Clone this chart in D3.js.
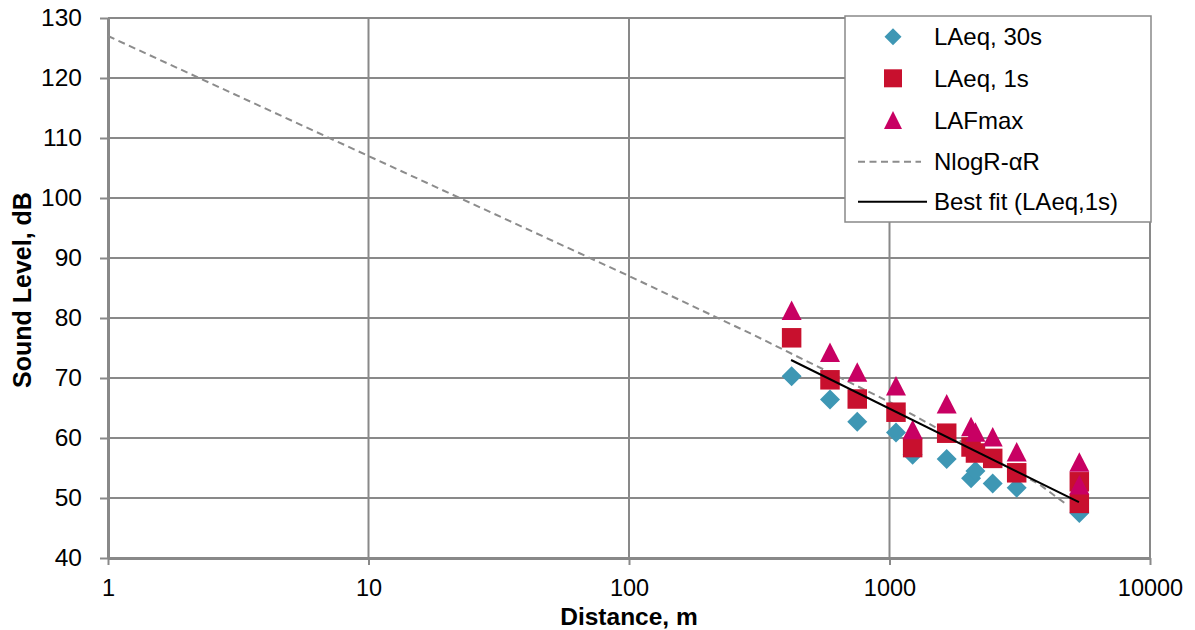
<!DOCTYPE html>
<html>
<head>
<meta charset="utf-8">
<script src="https://cdn.jsdelivr.net/npm/d3@7"></script>
<style>
  html, body { margin: 0; padding: 0; background: #fff; }
  svg { display: block; font-family: "Liberation Sans", Arial, sans-serif; }
</style>
</head>
<body>
<svg id="chart" width="1195" height="630"></svg>
<script>
// ---- data ----
const xTicks = [1, 10, 100, 1000, 10000];
const yTicks = [40, 50, 60, 70, 80, 90, 100, 110, 120, 130];

const laeq30Dist = [421, 591, 752, 1059, 1227, 1658, 2056, 2138, 2490, 3078, 5354];
const laeq30Vals = [70.3, 66.4, 62.7, 60.9, 57.2, 56.5, 53.3, 54.5, 52.4, 51.7, 47.5];

const laeq1Dist = [421, 591, 752, 1059, 1227, 1658, 2056, 2138, 2490, 3078, 5354, 5354];
const laeq1Vals = [76.7, 69.7, 66.5, 64.3, 58.4, 60.8, 58.5, 57.5, 56.6, 54.2, 52.7, 49.1];

const lafmaxDist = [421, 591, 752, 1059, 1227, 1658, 2056, 2138, 2490, 3078, 5354, 5354];
const lafmaxVals = [81.3, 74.3, 71.0, 68.7, 61.4, 65.7, 61.9, 61.0, 60.2, 57.7, 56.0, 52.2];

const modelDist = [1, 10, 100, 300, 1000, 1836, 3784, 4720];
const modelVals = [127, 107, 87, 77.2, 66, 59.7, 52.2, 49.1];

const fitDist = [419, 5336];
const fitVals = [73.0, 49.3];

const legendLabels = ["LAeq, 30s", "LAeq, 1s", "LAFmax", "NlogR-\u03b1R", "Best fit (LAeq,1s)"];

// ---- layout ----
const svg = d3.select("#chart");
const L = 108, R = 1150, T = 18, B = 558;
const x = d3.scaleLog().domain([1, 10000]).range([L, R]);
const y = d3.scaleLinear().domain([40, 130]).range([B, T]);

const gridColor = "#898989";
const colDiamond = "#3e97b4";
const colSquare = "#c8102e";
const colTriangle = "#c80063";

// gridlines
svg.append("g").selectAll("line").data(yTicks).join("line")
  .attr("x1", L).attr("x2", R)
  .attr("y1", d => y(d)).attr("y2", d => y(d))
  .attr("stroke", gridColor).attr("stroke-width", 2);
svg.append("g").selectAll("line").data(xTicks).join("line")
  .attr("x1", d => x(d)).attr("x2", d => x(d))
  .attr("y1", T).attr("y2", B)
  .attr("stroke", gridColor).attr("stroke-width", 2);

// axes
const xAxis = d3.axisBottom(x).tickValues(xTicks).tickFormat(d3.format("d")).tickSizeInner(7).tickSizeOuter(0).tickPadding(14);
const gx = svg.append("g").attr("transform", `translate(0,${B})`).call(xAxis);
const yAxis = d3.axisLeft(y).tickValues(yTicks).tickFormat(d3.format("d")).tickSizeInner(8).tickSizeOuter(0).tickPadding(18);
const gy = svg.append("g").attr("transform", `translate(${L},0)`).call(yAxis);
[gx, gy].forEach(g => {
  g.select(".domain").attr("stroke", gridColor).attr("stroke-width", 3);
  g.selectAll(".tick line").attr("stroke", gridColor).attr("stroke-width", 2);
  g.selectAll(".tick text").attr("fill", "#000")
    .attr("font-family", "Liberation Sans, Arial, sans-serif");
});
gy.selectAll(".tick text").attr("font-size", 24.5);
gx.selectAll(".tick text").attr("font-size", 23.5);

// model (dashed) line
const line = d3.line().x(d => x(d[0])).y(d => y(d[1]));
svg.append("path")
  .datum(modelDist.map((d, i) => [d, modelVals[i]]))
  .attr("d", line).attr("fill", "none")
  .attr("stroke", "#8c8c8c").attr("stroke-width", 2).attr("stroke-dasharray", "7,4.5");

// markers
const diamond = s => `M0,${-s}L${s},0L0,${s}L${-s},0Z`;
const square = s => `M${-s / 2},${-s / 2}h${s}v${s}h${-s}Z`;
const triangle = (w, h) => `M0,${-h / 2}L${w / 2},${h / 2}L${-w / 2},${h / 2}Z`;

svg.append("g").selectAll("path").data(laeq30Dist.map((d, i) => [d, laeq30Vals[i]])).join("path")
  .attr("d", diamond(10)).attr("fill", colDiamond)
  .attr("transform", d => `translate(${x(d[0])},${y(d[1])})`);
svg.append("g").selectAll("path").data(laeq1Dist.map((d, i) => [d, laeq1Vals[i]])).join("path")
  .attr("d", square(19.5)).attr("fill", colSquare)
  .attr("transform", d => `translate(${x(d[0])},${y(d[1])})`);
svg.append("g").selectAll("path").data(lafmaxDist.map((d, i) => [d, lafmaxVals[i]])).join("path")
  .attr("d", triangle(20, 19.5)).attr("fill", colTriangle)
  .attr("transform", d => `translate(${x(d[0])},${y(d[1])})`);

// best fit line
svg.append("path")
  .datum(fitDist.map((d, i) => [d, fitVals[i]]))
  .attr("d", line).attr("fill", "none")
  .attr("stroke", "#000").attr("stroke-width", 2);

// axis titles
svg.append("text").attr("x", 629).attr("y", 624.5).attr("text-anchor", "middle")
  .attr("font-size", 24.5).attr("font-weight", "bold").text("Distance, m");
svg.append("text").attr("transform", "translate(31,290) rotate(-90)").attr("text-anchor", "middle")
  .attr("font-size", 25).attr("font-weight", "bold").text("Sound Level, dB");

// legend
const lg = svg.append("g");
lg.append("rect").attr("x", 845).attr("y", 16).attr("width", 306).attr("height", 206)
  .attr("fill", "#fff").attr("stroke", gridColor).attr("stroke-width", 1.5);
const rowY = [36.7, 78.3, 120, 161.7, 201.7];
lg.append("path").attr("d", diamond(8.5)).attr("fill", colDiamond).attr("transform", `translate(893,${rowY[0]})`);
lg.append("path").attr("d", square(18)).attr("fill", colSquare).attr("transform", `translate(893,${rowY[1]})`);
lg.append("path").attr("d", triangle(18, 18)).attr("fill", colTriangle).attr("transform", `translate(893,${rowY[2]})`);
lg.append("line").attr("x1", 858).attr("x2", 921).attr("y1", rowY[3]).attr("y2", rowY[3])
  .attr("stroke", "#8c8c8c").attr("stroke-width", 2).attr("stroke-dasharray", "7,4.5");
lg.append("line").attr("x1", 858).attr("x2", 927).attr("y1", rowY[4]).attr("y2", rowY[4])
  .attr("stroke", "#000").attr("stroke-width", 2);
lg.selectAll("text.lab").data(legendLabels).join("text").attr("class", "lab")
  .attr("x", 934).attr("y", (d, i) => rowY[i] + 8.5)
  .attr("font-size", 24).text(d => d);
</script>
</body>
</html>
